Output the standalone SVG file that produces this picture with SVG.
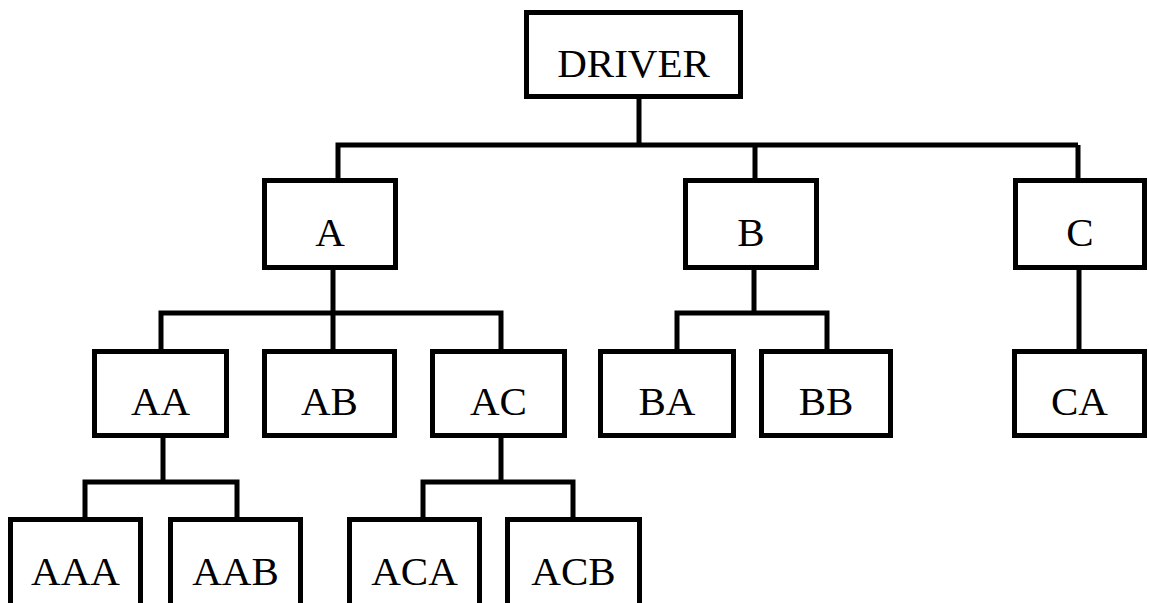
<svg xmlns="http://www.w3.org/2000/svg" width="1149" height="603" viewBox="0 0 1149 603">
<style>
.box{fill:#fff;stroke:#000;stroke-width:5}
.lbl{font-family:"Liberation Serif","Times New Roman",serif;font-size:41px;fill:#000;text-anchor:middle}
.conn{fill:none;stroke:#000;stroke-width:5;stroke-linejoin:miter;stroke-linecap:butt}
</style>
<rect width="1149" height="603" fill="#fff"/>
<g id="connectors">
<path class="conn" d="M639 97 V145"/>
<path class="conn" d="M338 180 V145 H1078 M755 145 V180 M1078 145 V180"/>
<path class="conn" d="M333 267 V313"/>
<path class="conn" d="M161 351 V313 H501 V351 M333 313 V351"/>
<path class="conn" d="M754 267 V313"/>
<path class="conn" d="M677 351 V313 H827 V351"/>
<path class="conn" d="M1079 267 V351"/>
<path class="conn" d="M163 436 V482"/>
<path class="conn" d="M85 519 V482 H237 V519"/>
<path class="conn" d="M501 436 V482"/>
<path class="conn" d="M423 519 V482 H573 V519"/>
</g>
<g id="node-driver"><rect class="box" x="526.5" y="12.5" width="214" height="84"/><text class="lbl" x="633.5" y="77">DRIVER</text></g>
<g id="node-a"><rect class="box" x="264.5" y="180.5" width="131" height="87"/><text class="lbl" x="330" y="246">A</text></g>
<g id="node-b"><rect class="box" x="685.5" y="180.5" width="131" height="87"/><text class="lbl" x="751" y="246">B</text></g>
<g id="node-c"><rect class="box" x="1015.5" y="180.5" width="129" height="87"/><text class="lbl" x="1080" y="246">C</text></g>
<g id="node-aa"><rect class="box" x="94.5" y="351.5" width="132" height="84"/><text class="lbl" x="160.5" y="415">AA</text></g>
<g id="node-ab"><rect class="box" x="264.5" y="351.5" width="130" height="84"/><text class="lbl" x="329.5" y="415">AB</text></g>
<g id="node-ac"><rect class="box" x="432.5" y="351.5" width="132" height="84"/><text class="lbl" x="498.5" y="415">AC</text></g>
<g id="node-ba"><rect class="box" x="600.5" y="351.5" width="133" height="84"/><text class="lbl" x="667" y="415">BA</text></g>
<g id="node-bb"><rect class="box" x="761.5" y="351.5" width="129" height="84"/><text class="lbl" x="826" y="415">BB</text></g>
<g id="node-ca"><rect class="box" x="1014.5" y="351.5" width="130" height="84"/><text class="lbl" x="1079.5" y="415">CA</text></g>
<g id="node-aaa"><rect class="box" x="10.5" y="519.5" width="130" height="95"/><text class="lbl" x="75.5" y="585">AAA</text></g>
<g id="node-aab"><rect class="box" x="170.5" y="519.5" width="130" height="95"/><text class="lbl" x="235.5" y="585">AAB</text></g>
<g id="node-aca"><rect class="box" x="349.5" y="519.5" width="130" height="95"/><text class="lbl" x="414.5" y="585">ACA</text></g>
<g id="node-acb"><rect class="box" x="507.5" y="519.5" width="132" height="95"/><text class="lbl" x="573.5" y="585">ACB</text></g>
</svg>
